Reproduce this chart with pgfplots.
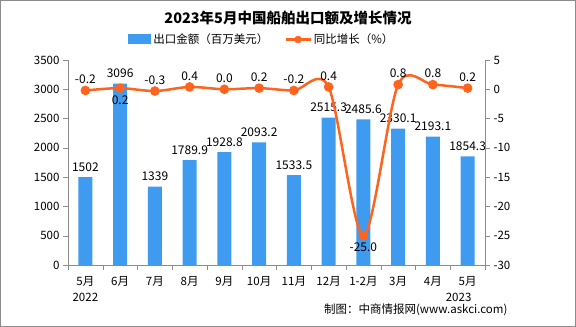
\documentclass[border=0pt]{standalone}
\usepackage{pgfplots}
\pgfplotsset{compat=1.18}
\usepackage{fontspec}
\setmainfont{Noto Sans CJK SC}
\definecolor{barblue}{RGB}{62,155,240}
\definecolor{lineor}{RGB}{255,100,30}
\definecolor{axgray}{RGB}{140,140,140}
\begin{document}
\begin{tikzpicture}
\useasboundingbox (0,0) rectangle (576bp,327bp);
\draw[axgray] (0.5bp,0.5bp) rectangle (575.5bp,326.5bp);
\begin{axis}[
  at={(68bp,62bp)}, anchor=south west, scale only axis,
  width=417bp, height=205bp,
  xmin=-0.5, xmax=11.5, ymin=0, ymax=3500,
  axis x line*=bottom, axis y line*=left,
  axis line style={axgray,-},
  xtick={0,...,11},
  xticklabels={5月,6月,7月,8月,9月,10月,11月,12月,1-2月,3月,4月,5月},
  minor xtick={-0.5,0.5,...,11.5},
  major x tick style={draw=none},
  ytick={0,500,...,3500},
  tick align=outside, major tick length=5bp, minor tick length=5bp,
  tick style={axgray},
  /pgf/number format/assume math mode=true,
  /pgf/number format/1000 sep={},
  x tick label style={font=\fontsize{11.5bp}{13bp}\selectfont, yshift=-3bp},
  y tick label style={font=\fontsize{11.5bp}{13bp}\selectfont},
  clip=false,
  legend style={at={(0.465,1.1)}, anchor=center, draw=none, fill=none,
    legend columns=2, font=\fontsize{11.5bp}{13bp}\selectfont,
    /tikz/every even column/.append style={column sep=14bp}},
]
\addplot[ybar, bar width=14bp, fill=barblue, draw=none,
  area legend,
  legend image code/.code={\fill[barblue] (0bp,-5bp) rectangle (23bp,5bp);},
  nodes near coords, point meta=explicit symbolic,
  nodes near coords style={font=\fontsize{12bp}{13bp}\selectfont, text=black, yshift=2bp}]
  coordinates {(0,1502)[1502] (1,3096)[3096] (2,1339)[1339] (3,1789.9)[1789.9]
   (4,1928.8)[1928.8] (5,2093.2)[2093.2] (6,1533.5)[1533.5] (7,2515.3)[2515.3]
   (8,2485.6)[2485.6] (9,2330.1)[2330.1] (10,2193.1)[2193.1] (11,1854.3)[1854.3]};
\addlegendentry{出口金额（百万美元）}
\addlegendimage{legend image code/.code={\draw[lineor, line width=2.5bp] (0bp,0bp)--(25bp,0bp); \fill[lineor] (12.5bp,0bp) circle (3.5bp);}}
\addlegendentry{同比增长（\%）}
\node at (axis cs:0,0) [yshift=-32bp] {\fontsize{11.5bp}{13bp}\selectfont 2022};
\node at (axis cs:11,0) [yshift=-32bp, xshift=-9bp] {\fontsize{11.5bp}{13bp}\selectfont 2023};
\end{axis}
\begin{axis}[
  at={(68bp,62bp)}, anchor=south west, scale only axis,
  width=417bp, height=205bp,
  xmin=-0.5, xmax=11.5, ymin=-30, ymax=5,
  axis y line*=right, axis x line=none,
  axis line style={axgray,-},
  ytick={-30,-25,...,5},
  tick align=outside, major tick length=5bp,
  tick style={axgray},
  /pgf/number format/assume math mode=true,
  y tick label style={font=\fontsize{11.5bp}{13bp}\selectfont},
  clip=false,
]
\addplot[lineor, line width=2.5bp, smooth, tension=0.5, mark=*,
  mark options={fill=lineor, draw=lineor, solid}, mark size=3.5bp]
  coordinates {(0,-0.2) (1,0.2) (2,-0.3) (3,0.4) (4,0.0) (5,0.2) (6,-0.2)
   (7,0.4) (8,-25.0) (9,0.8) (10,0.8) (11,0.2)};
\addplot[draw=none, mark=none, nodes near coords, point meta=explicit symbolic,
  nodes near coords style={font=\fontsize{12bp}{13bp}\selectfont, text=black, yshift=3bp}]
  coordinates {(0,-0.2)[-0.2] (2,-0.3)[-0.3] (3,0.4)[0.4] (4,0.0)[0.0] (5,0.2)[0.2]
   (6,-0.2)[-0.2] (7,0.4)[0.4] (9,0.8)[0.8] (10,0.8)[0.8] (11,0.2)[0.2]};
\addplot[draw=none, mark=none, nodes near coords, point meta=explicit symbolic,
  nodes near coords align=below,
  nodes near coords style={font=\fontsize{12bp}{13bp}\selectfont, text=black, yshift=-4bp}]
  coordinates {(1,0.2)[0.2] (8,-25.0)[-25.0]};
\end{axis}
\node at (288bp,309bp) {\fontsize{14.5bp}{16bp}\selectfont\bfseries 2023年5月中国船舶出口额及增长情况};
\node[anchor=east] at (511bp,17bp) {\fontsize{11.5bp}{13bp}\selectfont 制图：中商情报网(www.askci.com)};
\end{tikzpicture}
\end{document}
